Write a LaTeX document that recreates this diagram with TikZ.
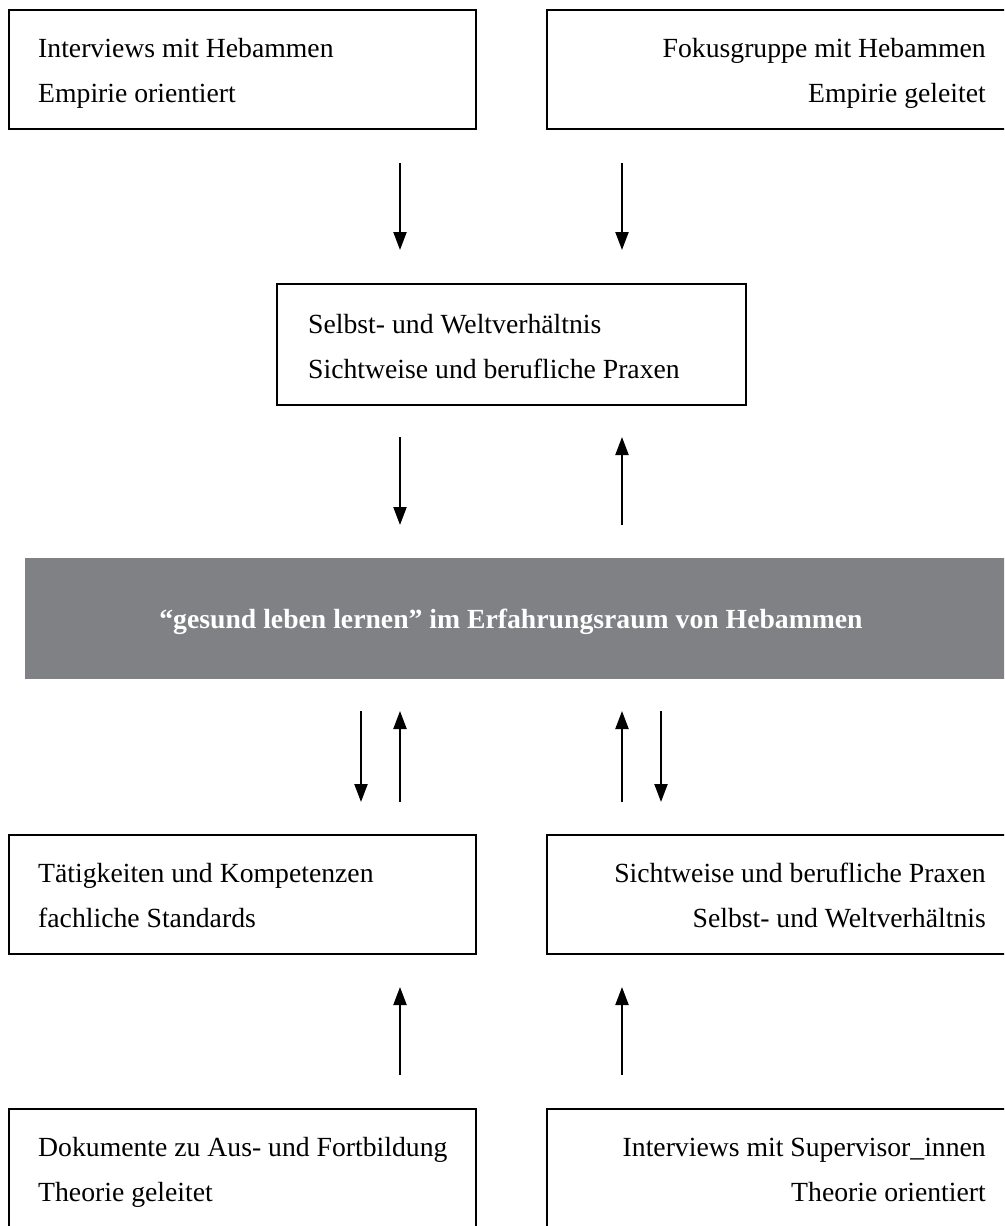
\documentclass[tikz,border=0pt]{standalone}
\usepackage{fontspec}
\setmainfont{Liberation Serif}
\usetikzlibrary{arrows.meta}
\definecolor{bandgray}{RGB}{128,129,133}
\tikzset{
  box/.style={draw=black, line width=2.6pt, rectangle, inner sep=0pt, outer sep=0pt},
  band/.style={fill=bandgray, draw=none, rectangle, inner sep=0pt, outer sep=0pt},
  ltext/.style={anchor=base west, align=left, inner sep=0pt, font=\fontsize{27.7}{45}\selectfont},
  rtext/.style={anchor=base east, align=right, inner sep=0pt, font=\fontsize{27.7}{45}\selectfont},
  btext/.style={anchor=base, inner sep=0pt, text=white, font=\fontsize{27.7}{33}\selectfont\bfseries},
  arr/.style={line width=2.2pt, -{Triangle[length=18pt,width=13pt]}}
}
\begin{document}
\begin{tikzpicture}[x=1pt,y=-1pt]
\useasboundingbox (0,0) rectangle (1004,1226);
\clip (0,0) rectangle (1004,1226);
% boxes
\node[box, minimum width=467pt, minimum height=119pt] (tl) at (242.5,69.5) {};
\node[box, minimum width=463pt, minimum height=119pt] (tr) at (778.5,69.5) {};
\node[box, minimum width=469pt, minimum height=121pt] (mid) at (511.5,344.5) {};
\node[band, minimum width=985pt, minimum height=121pt] (gb) at (517.5,618.5) {};
\node[box, minimum width=467pt, minimum height=119pt] (ml) at (242.5,894.5) {};
\node[box, minimum width=463pt, minimum height=119pt] (mr) at (778.5,894.5) {};
\node[box, minimum width=467pt, minimum height=121pt] (bl) at (242.5,1169.5) {};
\node[box, minimum width=463pt, minimum height=121pt] (br) at (778.5,1169.5) {};
% texts (anchor = baseline of the last line)
\node[ltext] (tlt) at (38,102) {Interviews mit Hebammen\\Empirie orientiert};
\node[rtext] (trt) at (986,102) {Fokusgruppe mit Hebammen\\Empirie geleitet};
\node[ltext] (midt) at (308,378) {Selbst- und Weltverhältnis\\Sichtweise und berufliche Praxen};
\node[btext] (gbt) at (511,628) {“gesund leben lernen” im Erfahrungsraum von Hebammen};
\node[ltext] (mlt) at (38,927) {Tätigkeiten und Kompetenzen\\fachliche Standards};
\node[rtext] (mrt) at (986,927) {Sichtweise und berufliche Praxen\\Selbst- und Weltverhältnis};
\node[ltext] (blt) at (38,1201) {Dokumente zu Aus- und Fortbildung\\Theorie geleitet};
\node[rtext] (brt) at (986,1201) {Interviews mit Supervisor\_innen\\Theorie orientiert};
% x positions of arrows
\coordinate (xa) at (400,0);
\coordinate (xb) at (622,0);
\coordinate (xc) at (361,0);
\coordinate (xd) at (661,0);
% row 1 -> middle
\draw[arr, shorten <=34pt, shorten >=34pt] (tl.south -| xa) -- (mid.north -| xa);
\draw[arr, shorten <=34pt, shorten >=34pt] (tr.south -| xb) -- (mid.north -| xb);
% middle <-> band
\draw[arr, shorten <=32pt, shorten >=33pt] (mid.south -| xa) -- (gb.north -| xa);
\draw[arr, shorten <=33pt, shorten >=32pt] (gb.north -| xb) -- (mid.south -| xb);
% band <-> row 4
\draw[arr, shorten <=32pt, shorten >=33pt] (gb.south -| xc) -- (ml.north -| xc);
\draw[arr, shorten <=33pt, shorten >=32pt] (ml.north -| xa) -- (gb.south -| xa);
\draw[arr, shorten <=33pt, shorten >=32pt] (mr.north -| xb) -- (gb.south -| xb);
\draw[arr, shorten <=32pt, shorten >=33pt] (gb.south -| xd) -- (mr.north -| xd);
% row 5 -> row 4
\draw[arr, shorten <=34pt, shorten >=33pt] (bl.north -| xa) -- (ml.south -| xa);
\draw[arr, shorten <=34pt, shorten >=33pt] (br.north -| xb) -- (mr.south -| xb);
\end{tikzpicture}
\end{document}
